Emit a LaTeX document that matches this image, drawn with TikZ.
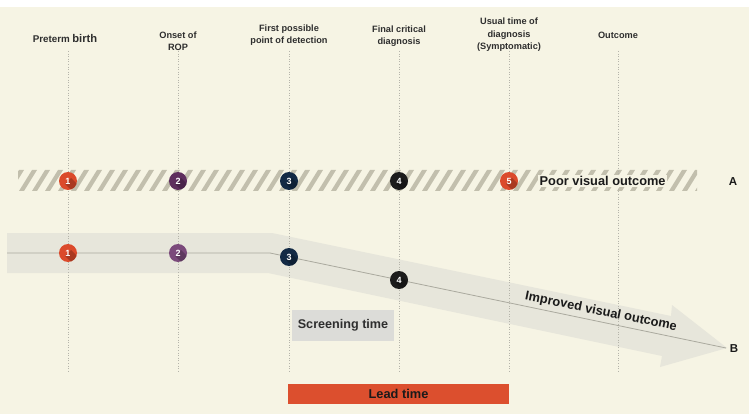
\documentclass[tikz,border=0pt]{standalone}
\usepackage{fontspec}
\setmainfont{Liberation Sans}
\begin{document}
\begin{tikzpicture}[x=1pt,y=-1pt,
  font=\bfseries,
  toplabel/.style={align=center,font=\bfseries\fontsize{9.2}{12.5}\selectfont,text=labgray,inner sep=0pt},
  guide/.style={draw=guidegray,line width=0.6pt,dotted},
  num/.style={circle,minimum size=18pt,inner sep=0pt,text=white,font=\bfseries\fontsize{9}{10}\selectfont,
    path picture={\fill[black,opacity=0.22] ([shift={(3,-3)}]path picture bounding box.center) -- ([shift={(-3,3)}]path picture bounding box.center) -- ([shift={(12,18)}]path picture bounding box.center) -- ([shift={(18,12)}]path picture bounding box.center) -- cycle;}},
  bigtext/.style={font=\bfseries\fontsize{12.8}{14}\selectfont,text=txt}
]
\definecolor{cream}{HTML}{F6F4E4}
\definecolor{bandgray}{HTML}{E7E6DB}
\definecolor{hatch}{HTML}{C2BFAD}
\definecolor{guidegray}{HTML}{B5B4AA}
\definecolor{linegray}{HTML}{ABAA9F}
\definecolor{labgray}{HTML}{2E2E2E}
\definecolor{txt}{HTML}{1A1A1A}
\definecolor{redc}{HTML}{DB4A2B}
\definecolor{purA}{HTML}{5F2F5E}
\definecolor{purB}{HTML}{7B4A7B}
\definecolor{navy}{HTML}{132A45}
\definecolor{blk}{HTML}{1C1C1C}
\definecolor{screen}{HTML}{DCDCD8}
\definecolor{lead}{HTML}{DC4F2E}

\useasboundingbox (0,0) rectangle (749,414);
\fill[white] (0,0) rectangle (749,414);
\fill[cream] (0,7) rectangle (749,414);

% band B (arrow)
\fill[bandgray] (7,233) -- (272,233) -- (671,316) -- (672,305) -- (727,348) -- (660,367) -- (662,356) -- (268,273) -- (7,273) -- cycle;

% hatched band A
\begin{scope}
  \clip (18,170) rectangle (697,191);
  \foreach \x in {-20,-7,...,700}
    \fill[hatch] (\x,191) -- (\x+5,191) -- (\x+18,170) -- (\x+13,170) -- cycle;
\end{scope}

% guides
\foreach \gx/\gn in {68/g1,178/g2,289/g3,399/g4,509/g5,618/g6}{
  \coordinate (\gn top) at (\gx,51);
  \coordinate (\gn bot) at (\gx,373);
  \draw[guide] (\gn top) -- (\gn bot);
}

% top labels
\node[toplabel] (l1) at (65,38) {{\fontsize{9.8}{12}\selectfont Preterm} {\fontsize{11.2}{12}\selectfont birth}};
\node[toplabel] (l2) at (178,41) {Onset of\\ROP};
\node[toplabel] (l3) at (289,35) {First possible\\point of detection};
\node[toplabel] (l4) at (399,36) {Final critical\\diagnosis};
\node[toplabel] (l5) at (509,35) {Usual time of\\diagnosis\\(Symptomatic)};
\node[toplabel] (l6) at (618,35) {Outcome};

% B path line
\coordinate (bstart) at (7,253);
\coordinate (bbend) at (270,253);
\coordinate (btip) at (726,348);
\draw[linegray,line width=0.8pt] (bstart) -- (bbend) -- (btip);

% row A circles
\node[num,fill=redc] (a1) at (68,181) {1};
\node[num,fill=purA] (a2) at (178,181) {2};
\node[num,fill=navy] (a3) at (289,181) {3};
\node[num,fill=blk] (a4) at (399,181) {4};
\node[num,fill=redc] (a5) at (509,181) {5};
\node[bigtext,fill=cream,inner sep=1.5pt,anchor=west] (poor) at (538,181) {Poor visual outcome};
\node[font=\bfseries\fontsize{11.5}{12}\selectfont,text=txt] (A) at (733,182) {A};

% row B circles
\node[num,fill=redc] (b1) at (68,253) {1};
\node[num,fill=purB] (b2) at (178,253) {2};
\node[num,fill=navy] (b3) at (289,257) {3};
\node[num,fill=blk] (b4) at (399,280) {4};
\node[bigtext,rotate=-11.5,inner sep=0pt] (improved) at (601,312) {Improved visual outcome};
\node[font=\bfseries\fontsize{11.5}{12}\selectfont,text=txt] (B) at (734,349) {B};

% boxes
\node[fill=screen,minimum width=102pt,minimum height=31pt,inner sep=0pt,font=\bfseries\fontsize{12.6}{14}\selectfont,text=labgray] (screening) at (343,325.5) {Screening time};
\node[fill=lead,minimum width=221pt,minimum height=20pt,inner sep=0pt,bigtext] (leadtime) at (398.5,394) {Lead time};
\end{tikzpicture}
\end{document}
